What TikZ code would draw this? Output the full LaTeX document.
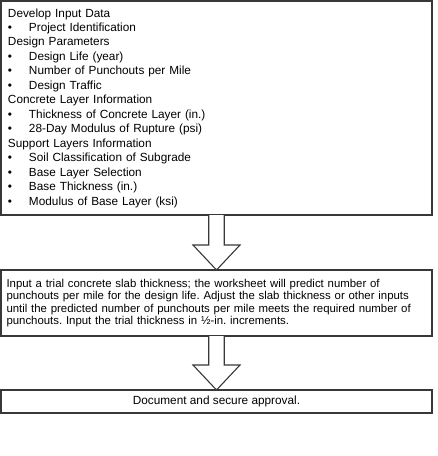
\documentclass[tikz,border=0pt]{standalone}
\usepackage{fontspec}
\setmainfont{Liberation Sans}
\usetikzlibrary{calc}
\tikzset{
  boxnode/.style={draw=black!78, line width=1.2pt, minimum width=431pt, inner sep=0pt, outer sep=0pt, anchor=center},
  blockarrow/.style={draw=black!78, line width=1.1pt, fill=white, line join=miter}
}
\newcommand\bitem[1]{\makebox[21pt][l]{\textbullet}#1}
\newcommand\drawblockarrow[2]{%
  \draw[blockarrow] ([xshift=-7.75pt]#1.south) -- ([xshift=-7.75pt,yshift=25pt]#2.north)
    -- ([xshift=-23.5pt,yshift=25pt]#2.north) -- (#2.north)
    -- ([xshift=23.5pt,yshift=25pt]#2.north) -- ([xshift=7.75pt,yshift=25pt]#2.north)
    -- ([xshift=7.75pt]#1.south);}
\begin{document}
\frenchspacing
\begin{tikzpicture}[x=1pt,y=1pt]
\useasboundingbox[fill=white] (0,0) rectangle (438,-456);
\node[boxnode, minimum height=214pt, text width=417pt, align=left,
      font=\fontsize{11.8}{14.46}\selectfont] (b1) at (216.5,-108)
 {Develop Input Data\\
  \bitem{Project Identification}\\
  Design Parameters\\
  \bitem{Design Life (year)}\\
  \bitem{Number of Punchouts per Mile}\\
  \bitem{Design Traffic}\\
  Concrete Layer Information\\
  \bitem{Thickness of Concrete Layer (in.)}\\
  \bitem{28-Day Modulus of Rupture (psi)}\\
  Support Layers Information\\
  \bitem{Soil Classification of Subgrade}\\
  \bitem{Base Layer Selection}\\
  \bitem{Base Thickness (in.)}\\
  \bitem{Modulus of Base Layer (ksi)}};
\node[boxnode, minimum height=66pt, text width=420pt, align=left,
      font=\fontsize{11.4}{12.6}\selectfont\frenchspacing] (b2) at (216.5,-303)
 {Input a trial concrete slab thickness; the worksheet will predict number of\\
  punchouts per mile for the design life. Adjust the slab thickness or other inputs\\
  until the predicted number of punchouts per mile meets the required number of\\
  punchouts. Input the trial thickness in ½-in. increments.};
\node[boxnode, minimum height=23pt, align=center,
      font=\fontsize{11.8}{13}\selectfont] (b3) at (216.5,-401.5)
 {Document and secure approval.};
\drawblockarrow{b1}{b2}
\drawblockarrow{b2}{b3}
\end{tikzpicture}
\end{document}
